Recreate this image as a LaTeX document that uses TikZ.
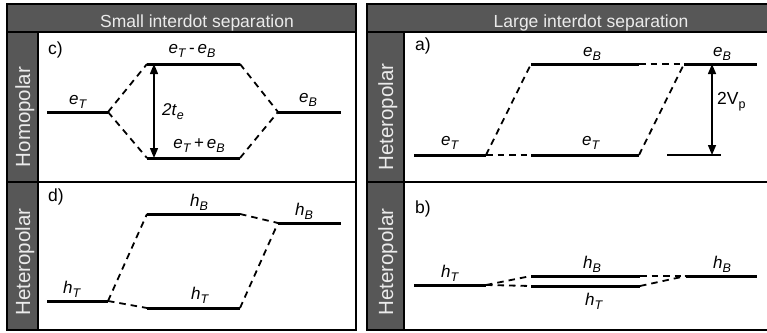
\documentclass[tikz,border=0pt]{standalone}
\usepackage{fontspec}
\setmainfont{Liberation Sans}
\usetikzlibrary{arrows.meta}
\tikzset{
  lvl/.style={line width=3pt},
  conn/.style={line width=1.8pt, dash pattern=on 6.5pt off 5pt},
  thinlvl/.style={line width=1.3pt},
  hdr/.style={text=black!8, font=\fontsize{17.5}{20}\selectfont, anchor=base, inner sep=0pt},
  side/.style={text=black!8, font=\fontsize{20.5}{24}\selectfont, rotate=90, anchor=base, inner sep=0pt},
  frame/.style={line width=2pt, draw=black},
  greyfill/.style={fill=black!66},
  lab/.style={font=\fontsize{17}{19}\selectfont, inner sep=0pt},
  tag/.style={font=\fontsize{17.5}{20}\selectfont, inner sep=0pt, anchor=west},
  dim/.style={line width=1.4pt, {Triangle[width=8pt,length=10pt]}-{Triangle[width=8pt,length=10pt]}},
}
\newcommand\lv[2]{\textit{#1}\raisebox{-0.45ex}{\fontsize{12.5}{13}\selectfont\textit{#2}}}
\begin{document}
\begin{tikzpicture}[x=1pt,y=-1pt]
\useasboundingbox (0,0) rectangle (767,332);
\fill[white] (0,0) rectangle (767,332);
% ---------- frames ----------
\fill[greyfill] (7,4) rectangle (356,32);
\fill[greyfill] (7,32) rectangle (38,330);
\draw[frame] (7,4) rectangle (356,330);
\draw[frame] (7,32) -- (356,32);
\draw[frame] (38,32) -- (38,330);
\draw[frame] (7,182) -- (356,182);
\fill[greyfill] (367,4) rectangle (780,32);
\fill[greyfill] (367,32) rectangle (404,330);
\draw[frame] (367,4) rectangle (780,330);
\draw[frame] (367,32) -- (780,32);
\draw[frame] (404,32) -- (404,330);
\draw[frame] (367,182) -- (780,182);
\node[hdr] (hl) at (197,27) {Small interdot separation};
\node[hdr] (hr) at (591,27) {Large interdot separation};
\node[side] (s1) at (30,117) {Homopolar};
\node[side] (s2) at (30,262) {Heteropolar};
\node[side] (s3) at (393,117) {Heteropolar};
\node[side] (s4) at (393,262) {Heteropolar};
% ---------- panel c ----------
\node[tag] (tc) at (48,50) {c)};
\coordinate (cL1) at (47,112); \coordinate (cL2) at (108,112);
\coordinate (cU1) at (147,64); \coordinate (cU2) at (240,64);
\coordinate (cD1) at (147,158); \coordinate (cD2) at (240,158);
\coordinate (cR1) at (278,112); \coordinate (cR2) at (341,112);
\draw[lvl] (cL1) -- (cL2);
\draw[lvl] (cU1) -- (cU2);
\draw[lvl] (cD1) -- (cD2);
\draw[lvl] (cR1) -- (cR2);
\draw[conn] (cL2) -- (cU1);
\draw[conn] (cL2) -- (cD1);
\draw[conn] (cU2) -- (cR1);
\draw[conn] (cD2) -- (cR1);
\coordinate (cAt) at (154,64); \coordinate (cAb) at (154,158);
\draw[dim] (cAt) -- (cAb);
\node[lab, anchor=west] (c2t) at (162,112) {\textit{2t}\raisebox{-0.45ex}{\fontsize{12.5}{13}\selectfont\textit{e}}};
\node[lab, anchor=south] (c1) at (78,109) {\lv{e}{T}};
\node[lab, anchor=south] (c2) at (192,58) {\lv{e}{T}\,-\,\lv{e}{B}};
\node[lab, anchor=south] (c3) at (199,153) {\lv{e}{T}\,+\,\lv{e}{B}};
\node[lab, anchor=south] (c4) at (308,107) {\lv{e}{B}};
% ---------- panel a ----------
\node[tag] (ta) at (415,46) {a)};
\coordinate (aL1) at (414,155); \coordinate (aL2) at (486,155);
\coordinate (aM1) at (531,155); \coordinate (aM2) at (639,155);
\coordinate (aU1) at (531,64); \coordinate (aU2) at (639,64);
\coordinate (aR1) at (684,64); \coordinate (aR2) at (757,64);
\coordinate (aT1) at (667,155); \coordinate (aT2) at (721,155);
\draw[lvl] (aL1) -- (aL2);
\draw[lvl] (aM1) -- (aM2);
\draw[lvl] (aU1) -- (aU2);
\draw[lvl] (aR1) -- (aR2);
\draw[thinlvl] (aT1) -- (aT2);
\draw[conn] (aL2) -- (aM1);
\draw[conn] (aL2) -- (aU1);
\draw[conn] (aU2) -- (aR1);
\draw[conn] (aM2) -- (aR1);
\coordinate (aAt) at (712,64); \coordinate (aAb) at (712,155);
\draw[dim] (aAt) -- (aAb);
\node[font=\fontsize{17.5}{20}\selectfont, inner sep=0pt, anchor=west] (a2v) at (717,102) {2V\raisebox{-0.45ex}{\fontsize{12.5}{13}\selectfont p}};
\node[lab, anchor=south] (a1) at (450,150) {\lv{e}{T}};
\node[lab, anchor=south] (a2) at (591,150) {\lv{e}{T}};
\node[lab, anchor=south] (a3) at (592,61) {\lv{e}{B}};
\node[lab, anchor=south] (a4) at (722,61) {\lv{e}{B}};
% ---------- panel d ----------
\node[tag] (td) at (48,197) {d)};
\coordinate (dL1) at (47,301); \coordinate (dL2) at (108,301);
\coordinate (dD1) at (147,308); \coordinate (dD2) at (240,308);
\coordinate (dU1) at (147,214); \coordinate (dU2) at (240,214);
\coordinate (dR1) at (278,223); \coordinate (dR2) at (341,223);
\draw[lvl] (dL1) -- (dL2);
\draw[lvl] (dD1) -- (dD2);
\draw[lvl] (dU1) -- (dU2);
\draw[lvl] (dR1) -- (dR2);
\draw[conn] (dL2) -- (dD1);
\draw[conn] (dL2) -- (dU1);
\draw[conn] (dU2) -- (dR1);
\draw[conn] (dD2) -- (dR1);
\node[lab, anchor=south] (d1) at (72,298) {\lv{h}{T}};
\node[lab, anchor=south] (d2) at (199,211) {\lv{h}{B}};
\node[lab, anchor=south] (d3) at (304,220) {\lv{h}{B}};
\node[lab, anchor=south] (d4) at (200,304) {\lv{h}{T}};
% ---------- panel b ----------
\node[tag] (tb) at (415,209) {b)};
\coordinate (bL1) at (414,285); \coordinate (bL2) at (486,285);
\coordinate (bU1) at (531,276); \coordinate (bU2) at (640,276);
\coordinate (bD1) at (531,286); \coordinate (bD2) at (640,286);
\coordinate (bR1) at (686,276); \coordinate (bR2) at (757,276);
\draw[lvl] (bL1) -- (bL2);
\draw[lvl] (bU1) -- (bU2);
\draw[lvl] (bD1) -- (bD2);
\draw[lvl] (bR1) -- (bR2);
\draw[conn] (bL2) -- (bU1);
\draw[conn] (bL2) -- (bD1);
\draw[conn] (bU2) -- (bR1);
\draw[conn] (bD2) -- (bR1);
\node[lab, anchor=south] (b1) at (450,282) {\lv{h}{T}};
\node[lab, anchor=south] (b2) at (592,273) {\lv{h}{B}};
\node[lab, anchor=north] (b3) at (594,293) {\lv{h}{T}};
\node[lab, anchor=south] (b4) at (722,273) {\lv{h}{B}};
\end{tikzpicture}
\end{document}
